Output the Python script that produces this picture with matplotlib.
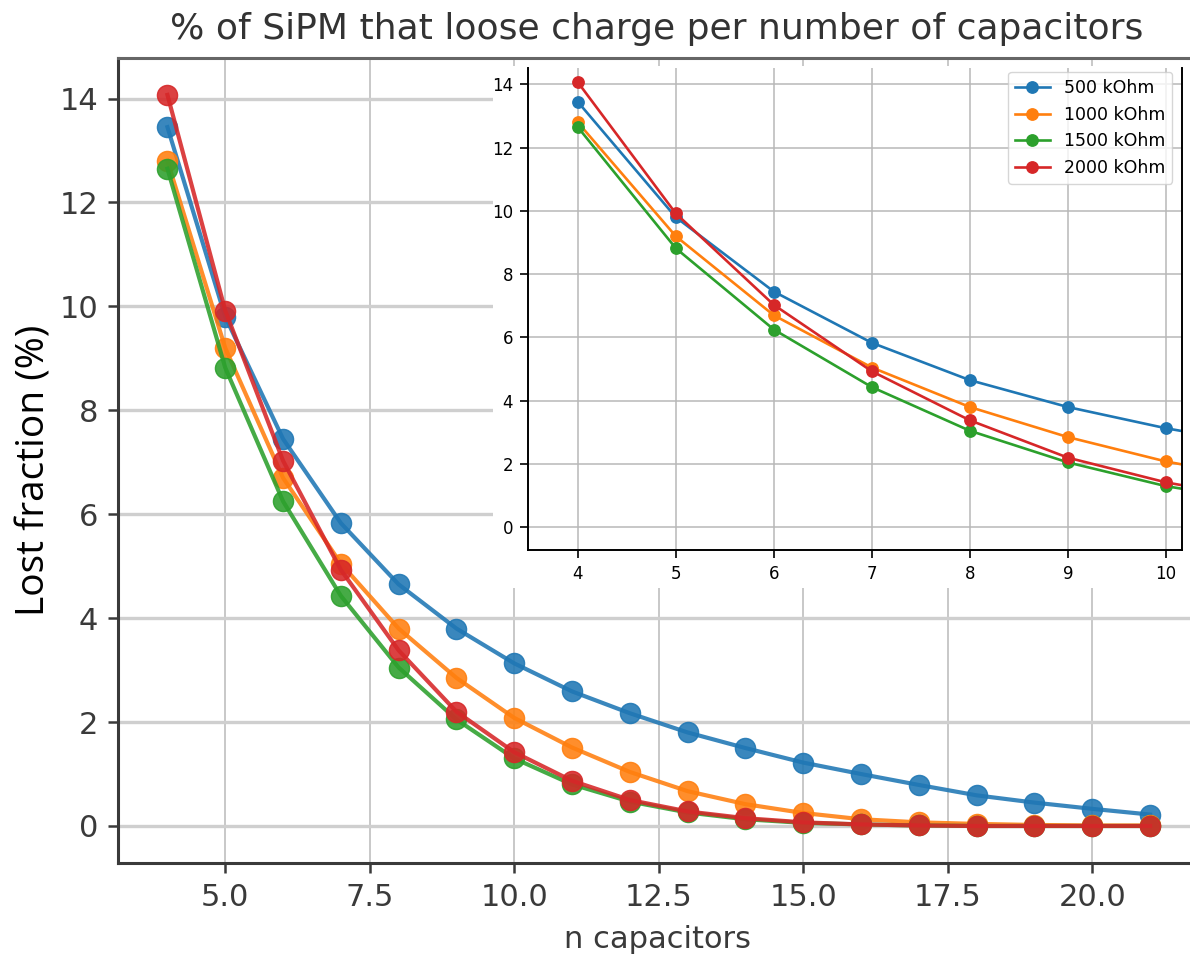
import matplotlib
matplotlib.use("Agg")
import matplotlib.pyplot as plt
from matplotlib.patches import Rectangle

n_caps = list(range(4, 22))
labels = ["500 kOhm", "1000 kOhm", "1500 kOhm", "2000 kOhm"]
r500 = [13.45, 9.80, 7.45, 5.83, 4.65, 3.80, 3.13, 2.59, 2.17, 1.80, 1.50, 1.22, 1.00, 0.79, 0.59, 0.45, 0.33, 0.22]
r1000 = [12.80, 9.20, 6.70, 5.05, 3.80, 2.85, 2.08, 1.51, 1.04, 0.67, 0.42, 0.25, 0.13, 0.07, 0.04, 0.02, 0.01, 0.01]
r1500 = [12.65, 8.82, 6.25, 4.43, 3.05, 2.05, 1.30, 0.80, 0.47, 0.26, 0.13, 0.06, 0.03, 0.01, 0.00, 0.00, 0.00, 0.00]
r2000 = [14.07, 9.92, 7.03, 4.93, 3.38, 2.20, 1.42, 0.87, 0.50, 0.28, 0.15, 0.07, 0.03, 0.01, 0.00, 0.00, 0.00, 0.00]
series = [r500, r1000, r1500, r2000]
colors = ["#1f77b4", "#ff7f0e", "#2ca02c", "#d62728"]

main_xticks = [5.0, 7.5, 10.0, 12.5, 15.0, 17.5, 20.0]
main_yticks = [0, 2, 4, 6, 8, 10, 12, 14]
inset_xticks = [4, 5, 6, 7, 8, 9, 10]
inset_yticks = [0, 2, 4, 6, 8, 10, 12, 14]

W, H = 1190, 957
fig = plt.figure(figsize=(W / 100, H / 100), dpi=100)

def px_axes(left, top, right, bottom):
    return [left / W, (H - bottom) / H, (right - left) / W, (bottom - top) / H]

# ---- main axes ----
ax = fig.add_axes(px_axes(118.3, 58.0, 1199.2, 863.3))
for s, c, lab in zip(series, colors, labels):
    ax.plot(n_caps, s, "-o", color=c, lw=3.0, ms=14.5, alpha=0.88, label=lab)
ax.set_xlim(3.15, 21.85)
ax.set_ylim(-0.718, 14.78)
ax.set_xticks(main_xticks)
ax.set_xticklabels([f"{v:.1f}" for v in main_xticks])
ax.set_yticks(main_yticks)
ax.tick_params(labelsize=22, colors="#3a3a3a", length=7.5, width=1.8, pad=7)
ax.yaxis.grid(True, color="#cfcfcf", lw=2.4)
ax.xaxis.grid(True, color="#c4c4c4", lw=1.3)
ax.set_axisbelow(True)
for sp in ["left", "bottom", "top"]:
    ax.spines[sp].set_color("#3a3a3a")
    ax.spines[sp].set_linewidth(2.2)
ax.spines["top"].set_color("#666666")

# ---- white backing box for inset ----
fig.patches.append(Rectangle((493 / W, (H - 588) / H), (W - 493) / W, (588 - 66) / H,
                             transform=fig.transFigure, facecolor="white",
                             edgecolor="none", zorder=1))

# ---- inset axes ----
axi = fig.add_axes(px_axes(527.7, 68.0, 1182.0, 550.0))
axi.set_zorder(2)
for s, c, lab in zip(series, colors, labels):
    axi.plot(n_caps, s, "-o", color=c, lw=1.9, ms=8.2, label=lab)
axi.set_xlim(3.49, 10.163)
axi.set_ylim(-0.717, 14.515)
axi.set_xticks(inset_xticks)
axi.set_yticks(inset_yticks)
axi.tick_params(labelsize=12, colors="black", length=5.5, width=1.2, pad=5)
axi.grid(True, color="#b8b8b8", lw=1.1)
axi.set_axisbelow(True)
for sp in axi.spines.values():
    sp.set_linewidth(1.4)
axi.spines["top"].set_visible(False)
leg = axi.legend(loc="upper right", bbox_to_anchor=(1172 / W, (H - 72) / H),
                 bbox_transform=fig.transFigure, borderaxespad=0, fontsize=12.5,
                 framealpha=0.8, handlelength=2.0, markerscale=1.0)

# ---- texts ----
fig.text(657 / W, 1 - 38.5 / H, "% of SiPM that loose charge per number of capacitors",
         ha="center", va="baseline", fontsize=26, color="#333333")
fig.text(658 / W, 1 - 940 / H, "n capacitors", ha="center", va="center",
         fontsize=22, color="#3a3a3a")
fig.text(35 / W, 1 - 470 / H, "Lost fraction (%)", ha="center", va="center",
         rotation=90, fontsize=28, color="black", family=["Open Sans", "DejaVu Sans"])

fig.savefig("out.png", dpi=100)
